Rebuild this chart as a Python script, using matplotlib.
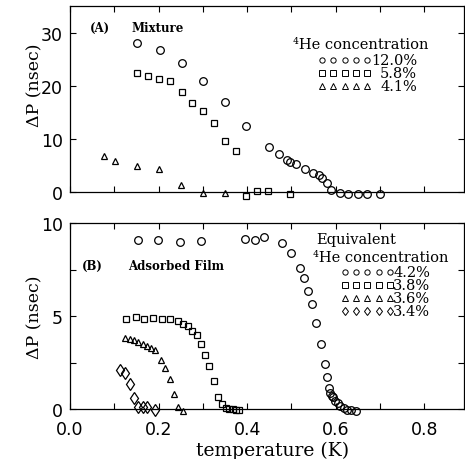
import matplotlib
matplotlib.use("Agg")
import matplotlib.pyplot as plt
from matplotlib.ticker import MultipleLocator, FixedLocator

# ---- Panel A: mixture ----
a_c12_T = [0.152, 0.203, 0.252, 0.301, 0.351, 0.398, 0.450, 0.471, 0.490, 0.498, 0.511,
           0.530, 0.550, 0.562, 0.569, 0.580, 0.589, 0.611, 0.629, 0.650, 0.671, 0.701]
a_c12_P = [28.0, 26.75, 24.25, 20.9, 16.9, 12.5, 8.4, 7.2, 6.1, 5.7, 5.2,
           4.4, 3.6, 3.2, 2.7, 1.75, 0.3, -0.1, -0.3, -0.3, -0.3, -0.4]
a_c58_T = [0.152, 0.177, 0.202, 0.227, 0.252, 0.276, 0.301, 0.325, 0.351, 0.375,
           0.398, 0.423, 0.447, 0.496]
a_c58_P = [22.4, 21.9, 21.3, 20.8, 18.75, 16.75, 15.3, 13.0, 9.6, 7.7,
           -0.75, 0.2, 0.2, -0.3]
a_c41_T = [0.077, 0.102, 0.152, 0.201, 0.250, 0.300, 0.350]
a_c41_P = [6.75, 5.9, 4.9, 4.4, 1.3, -0.25, -0.25]
a_labels = ["12.0%", "5.8%", "4.1%"]

# ---- Panel B: adsorbed film ----
b_c42_T = [0.154, 0.199, 0.248, 0.297, 0.396, 0.417, 0.439, 0.479, 0.500, 0.519, 0.528,
           0.538, 0.547, 0.556, 0.566, 0.577, 0.580, 0.584, 0.588, 0.592, 0.594, 0.599,
           0.605, 0.611, 0.618, 0.626, 0.635, 0.647]
b_c42_P = [9.06, 9.06, 8.97, 9.02, 9.15, 9.11, 9.27, 8.93, 8.40, 7.58, 7.02,
           6.34, 5.63, 4.62, 3.50, 2.43, 1.72, 1.15, 0.85, 0.71, 0.62, 0.44,
           0.30, 0.18, 0.04, -0.04, -0.07, -0.10]
b_c38_T = [0.126, 0.148, 0.167, 0.187, 0.207, 0.226, 0.244, 0.256, 0.267, 0.276, 0.286,
           0.295, 0.305, 0.315, 0.325, 0.334, 0.344, 0.353, 0.360, 0.368, 0.375, 0.381]
b_c38_P = [4.83, 4.97, 4.83, 4.88, 4.83, 4.83, 4.71, 4.58, 4.48, 4.21, 4.0,
           3.5, 2.93, 2.31, 1.51, 0.66, 0.27, 0.04, 0.0, 0.0, -0.03, -0.03]
b_c36_T = [0.124, 0.135, 0.144, 0.154, 0.165, 0.174, 0.184, 0.193, 0.205, 0.214,
           0.225, 0.235, 0.244, 0.256]
b_c36_P = [3.82, 3.77, 3.69, 3.59, 3.52, 3.41, 3.29, 3.16, 2.63, 2.22,
           1.63, 0.83, 0.09, -0.09]
b_c34_T = [0.114, 0.124, 0.135, 0.144, 0.154, 0.165, 0.174, 0.192]
b_c34_P = [2.10, 1.95, 1.37, 0.59, 0.09, 0.09, 0.09, -0.04]
b_labels = ["4.2%", "3.8%", "3.6%", "3.4%"]

SERIF = "DejaVu Serif"
SANS = "DejaVu Sans"

fig = plt.figure(figsize=(4.65, 4.6), dpi=100)
W, H = 465.0, 460.0
axL, axR = 70, 464
ax1 = fig.add_axes([axL / W, 1 - 193 / H, (axR - axL) / W, 186 / H])
ax2 = fig.add_axes([axL / W, 1 - 410 / H, (axR - axL) / W, 186 / H])

mk = dict(linestyle="none", markerfacecolor="none", markeredgecolor="black",
          markeredgewidth=0.9, clip_on=False)

ax1.plot(a_c12_T, a_c12_P, marker="o", markersize=5.5, **mk)
ax1.plot(a_c58_T, a_c58_P, marker="s", markersize=4.8, **mk)
ax1.plot(a_c41_T, a_c41_P, marker="^", markersize=5.0, **mk)

ax2.plot(b_c42_T, b_c42_P, marker="o", markersize=5.5, **mk)
ax2.plot(b_c38_T, b_c38_P, marker="s", markersize=4.8, **mk)
ax2.plot(b_c36_T, b_c36_P, marker="^", markersize=5.0, **mk)
ax2.plot(b_c34_T, b_c34_P, marker="d", markersize=6.0, **mk)

for ax in (ax1, ax2):
    ax.set_xlim(0, 0.89)
    ax.xaxis.set_major_locator(MultipleLocator(0.2))
    ax.xaxis.set_minor_locator(MultipleLocator(0.1))
    ax.tick_params(which="both", direction="in", top=True, right=True,
                   length=4, width=0.8, labelsize=12.5, pad=5)
    ax.tick_params(axis="x", which="both", pad=8)
    for sp in ax.spines.values():
        sp.set_linewidth(0.9)

ax1.set_ylim(0, 35)
ax1.yaxis.set_major_locator(FixedLocator([0, 10, 20, 30]))
ax1.tick_params(labelbottom=False)
ax2.set_ylim(0, 10)
ax2.yaxis.set_major_locator(FixedLocator([0, 5, 10]))
ax2.yaxis.set_minor_locator(FixedLocator([2.5, 7.5]))
ax2.xaxis.set_major_formatter(plt.FuncFormatter(lambda v, p: f"{v:.1f}"))
for lab in ax2.get_xticklabels() + ax2.get_yticklabels() + ax1.get_yticklabels():
    lab.set_fontfamily(SANS)

for ax, yc in ((ax1, 0.58), (ax2, 0.5)):
    ax.set_ylabel("ΔP (nsec)", fontfamily=SERIF, fontsize=12.5)
    ax.yaxis.set_label_coords((43 - axL) / (axR - axL), yc)

fig.text(273 / W, 1 - 451 / H, "temperature (K)", fontfamily=SERIF, fontsize=13.5,
         ha="center", va="center")

# annotations
ann = dict(fontfamily=SERIF, fontweight="bold", fontsize=8.5, va="center")
ax1.text(0.051, 0.887, "(A)", transform=ax1.transAxes, **ann)
ax1.text(0.157, 0.887, "Mixture", transform=ax1.transAxes, **ann)
ax2.text(0.030, 0.774, "(B)", transform=ax2.transAxes, **ann)
ax2.text(0.147, 0.774, "Adsorbed Film", transform=ax2.transAxes, **ann)

# legend (panel A)
lg = dict(fontfamily=SERIF, fontsize=10.5, va="center")
ax1.text(0.566, 0.796, "⁴He concentration", transform=ax1.transAxes, **lg)
a_markers = ["o", "s", "^"]
a_rows = [0.710, 0.640, 0.570]
for m, y, lab in zip(a_markers, a_rows, a_labels):
    xs = [0.640 + i * (0.754 - 0.640) / 4 for i in range(5)]
    ax1.plot(xs, [y] * 5, marker=m, markersize=3.8, linestyle="none",
             markerfacecolor="none", markeredgecolor="black", markeredgewidth=0.7,
             transform=ax1.transAxes, clip_on=False)
    ax1.text(0.881, y, lab, transform=ax1.transAxes, ha="right", **lg)

# legend (panel B)
ax2.text(0.624, 0.914, "Equivalent", transform=ax2.transAxes, **lg)
ax2.text(0.617, 0.817, "⁴He concentration", transform=ax2.transAxes, **lg)
b_markers = ["o", "s", "^", "d"]
b_rows = [0.737, 0.667, 0.597, 0.527]
for m, y, lab in zip(b_markers, b_rows, b_labels):
    xs = [0.698 + i * (0.812 - 0.698) / 4 for i in range(5)]
    ax2.plot(xs, [y] * 5, marker=m, markersize=3.8 if m != "d" else 4.5,
             linestyle="none", markerfacecolor="none", markeredgecolor="black",
             markeredgewidth=0.7, transform=ax2.transAxes, clip_on=False)
    ax2.text(0.820, y, lab, transform=ax2.transAxes, ha="left", **lg)

fig.savefig("out.png", dpi=100)
